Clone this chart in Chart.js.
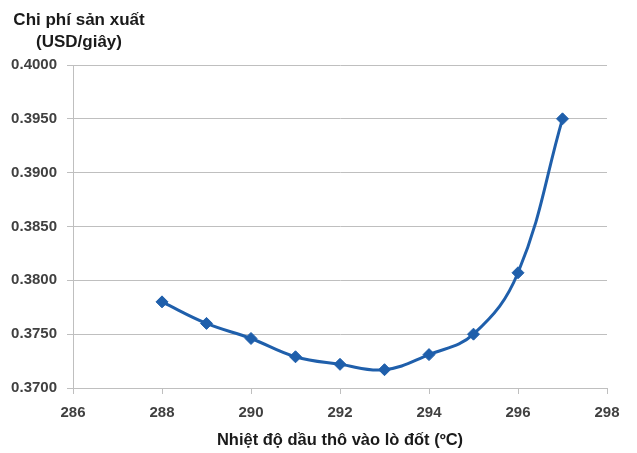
<!DOCTYPE html>
<html>
<head>
<meta charset="utf-8">
<script src="https://cdn.jsdelivr.net/npm/chart.js@4/dist/chart.umd.min.js"></script>
<style>
  html, body { margin: 0; padding: 0; background: #ffffff; }
  #wrap { position: relative; width: 637px; height: 453px; }
</style>
</head>
<body>
<div id="wrap"><canvas id="c" width="637" height="453"></canvas></div>
<script>
// Crude oil inlet temperature to the furnace (°C)
const temperatures = [288, 289, 290, 291, 292, 293, 294, 295, 296, 297];
// Production cost (USD/second)
const costs = [0.3780, 0.3760, 0.3746, 0.3729, 0.3722, 0.3717, 0.3731, 0.3750, 0.3807, 0.3950];

const yTitleLines = ['Chi phí sản xuất', '(USD/giây)'];
const xTitle = 'Nhiệt độ dầu thô vào lò đốt (ºC)';

const lineColor = '#1f5fab';
const gridColor = '#bfbfbf';
const tickColor = '#404040';
const fontFamily = '"Liberation Sans", Arial, sans-serif';

// Two-line y-axis caption above the plot, centred line by line
const yCaption = {
  id: 'yCaption',
  afterDraw(chart) {
    const ctx = chart.ctx;
    ctx.save();
    ctx.font = 'bold 17px ' + fontFamily;
    ctx.fillStyle = '#1a1a1a';
    ctx.textAlign = 'center';
    ctx.textBaseline = 'middle';
    ctx.fillText(yTitleLines[0], 79, 20);
    ctx.fillText(yTitleLines[1], 79, 42);
    ctx.restore();
  }
};

new Chart(document.getElementById('c'), {
  type: 'scatter',
  data: {
    datasets: [{
      data: temperatures.map((t, i) => ({ x: t, y: costs[i] })),
      showLine: true,
      borderColor: lineColor,
      backgroundColor: lineColor,
      borderWidth: 3,
      tension: 0.4,
      pointStyle: 'rectRot',
      pointRadius: 6,
      pointHoverRadius: 6,
      pointBorderWidth: 1
    }]
  },
  options: {
    responsive: false,
    animation: false,
    devicePixelRatio: 1,
    layout: { padding: { top: 65, right: 30, bottom: 0, left: 0 } },
    plugins: { legend: { display: false }, tooltip: { enabled: false } },
    scales: {
      x: {
        type: 'linear',
        min: 286,
        max: 298,
        afterFit(scale) { scale.height = 65; },
        ticks: {
          stepSize: 2,
          padding: 10,
          color: tickColor,
          font: { family: fontFamily, size: 15, weight: 'bold' }
        },
        grid: { drawOnChartArea: false, drawTicks: true, tickLength: 6, color: gridColor },
        border: { display: true, color: gridColor, width: 1 },
        title: {
          display: true,
          text: xTitle,
          color: '#1a1a1a',
          padding: { top: 0, bottom: 3 },
          font: { family: fontFamily, size: 16.5, weight: 'bold' }
        }
      },
      y: {
        type: 'linear',
        min: 0.37,
        max: 0.40,
        afterFit(scale) { scale.width = 73; },
        ticks: {
          stepSize: 0.005,
          padding: 10,
          color: tickColor,
          font: { family: fontFamily, size: 15, weight: 'bold' },
          callback: v => Number(v).toFixed(4)
        },
        grid: { drawOnChartArea: true, drawTicks: true, tickLength: 6, color: gridColor },
        border: { display: true, color: gridColor, width: 1 }
      }
    }
  },
  plugins: [yCaption]
});
</script>
</body>
</html>
